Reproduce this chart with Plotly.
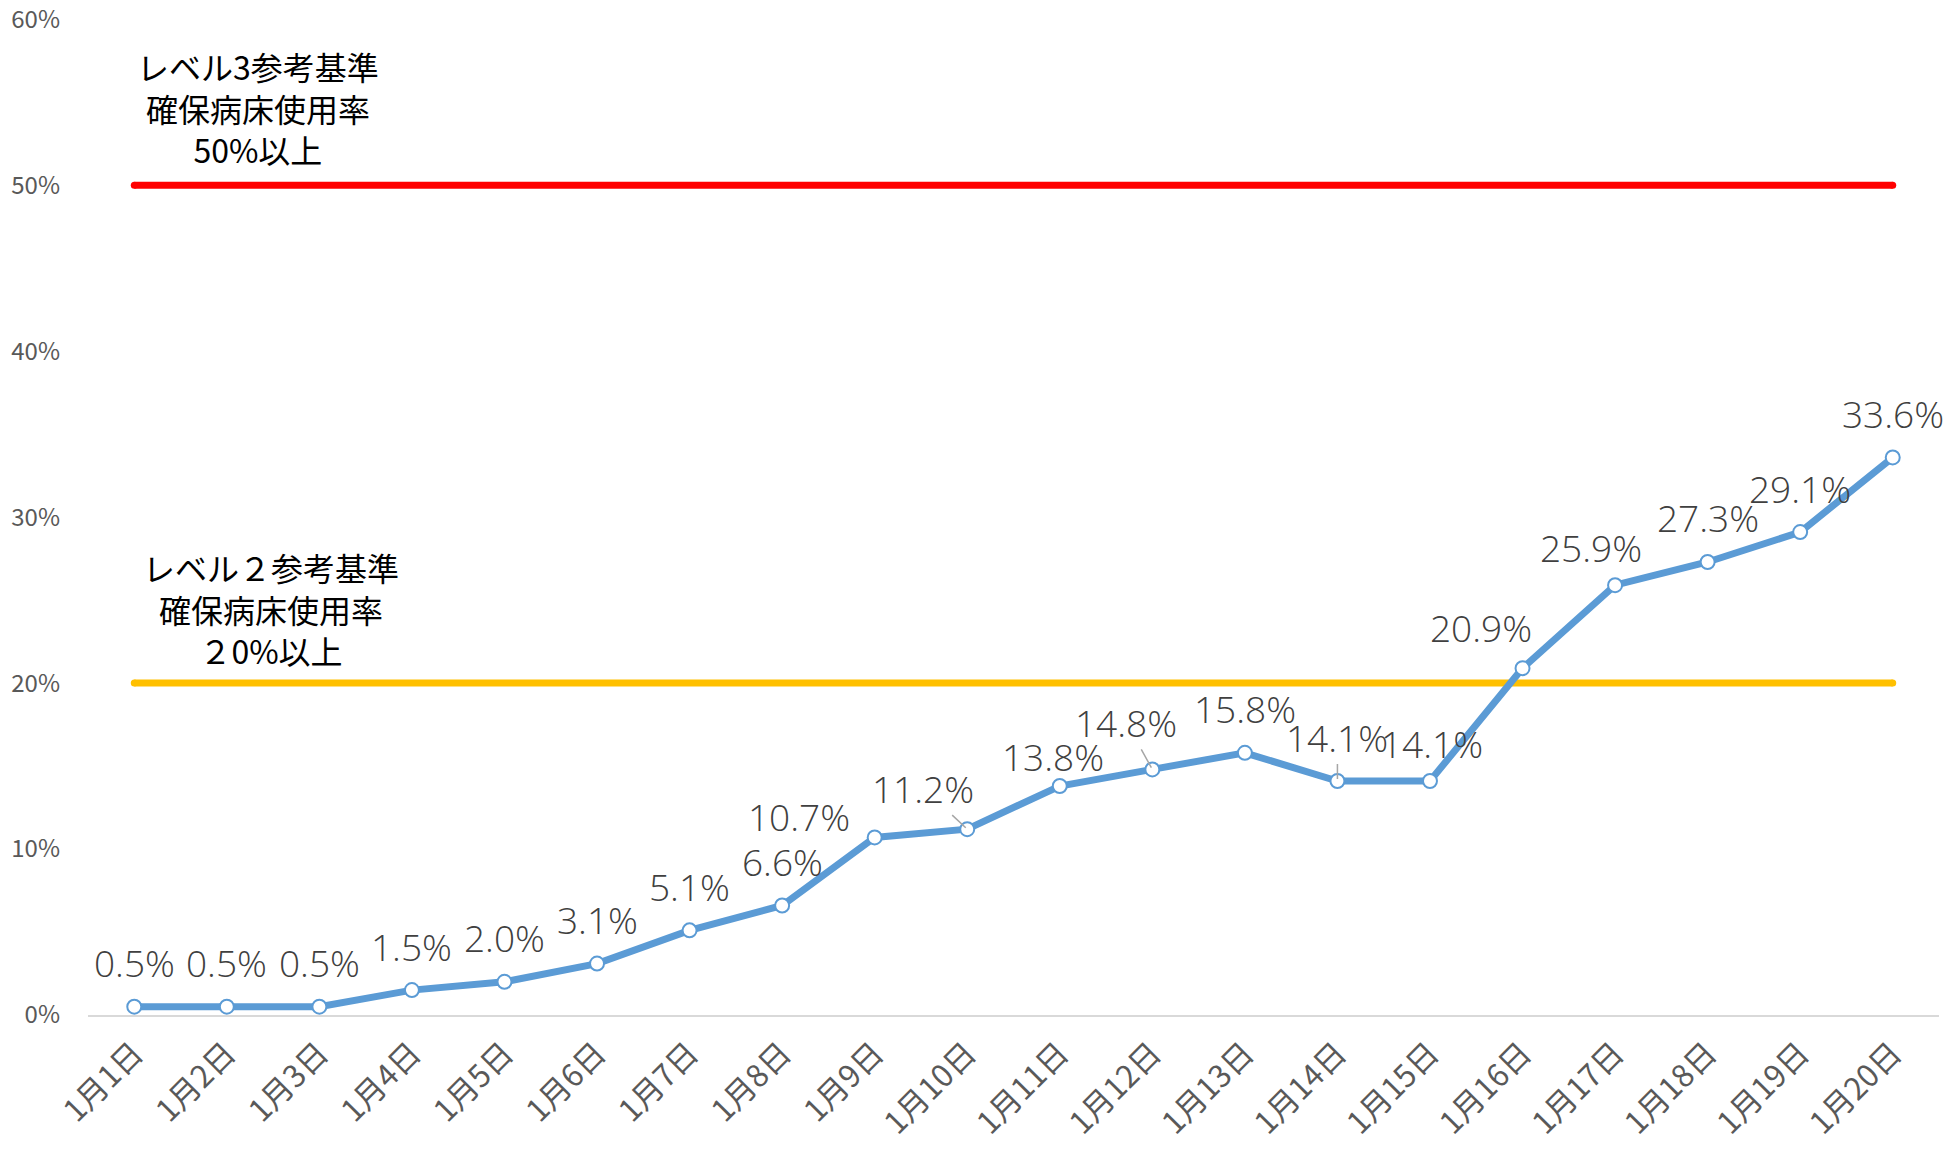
import plotly.graph_objects as go

# Categories and values
days = ["1月%d日" % d for d in range(1, 21)]
usage = [0.5, 0.5, 0.5, 1.5, 2.0, 3.1, 5.1, 6.6, 10.7, 11.2,
         13.8, 14.8, 15.8, 14.1, 14.1, 20.9, 25.9, 27.3, 29.1, 33.6]
y_ticks = [0, 10, 20, 30, 40, 50, 60]
y_labels = ["0%", "10%", "20%", "30%", "40%", "50%", "60%"]
level3 = 50
level2 = 20
level3_text = "レベル3参考基準<br>確保病床使用率<br>50%以上"
level2_text = "レベル２参考基準<br>確保病床使用率<br>２0%以上"

# label offsets in pixels (dx, dy, leader line)
label_shift = {
    8: (-76, -21, False),
    9: (-44, -41, True),
    10: (-7, -30, False),
    11: (-26, -47, True),
    13: (0, -44, True),
    14: (2, -38, False),
    15: (-42, -41, False),
    16: (-24, -38, False),
}

fig = go.Figure()

# Reference lines (markers at the ends give round caps)
fig.add_trace(go.Scatter(
    x=[days[0], days[-1]], y=[level3, level3], mode="lines+markers",
    line=dict(color="#ff0000", width=7),
    marker=dict(color="#ff0000", size=7), hoverinfo="skip"))
fig.add_trace(go.Scatter(
    x=[days[0], days[-1]], y=[level2, level2], mode="lines+markers",
    line=dict(color="#ffc000", width=7),
    marker=dict(color="#ffc000", size=7), hoverinfo="skip"))

fig.add_trace(go.Scatter(
    x=days, y=usage, mode="lines+markers",
    line=dict(color="#5b9bd5", width=7),
    marker=dict(color="white", size=14, line=dict(color="#5b9bd5", width=2))))

label_font = dict(family="Open Sans, Liberation Sans", size=37, color="#404040", weight=300)
for i, (d, v) in enumerate(zip(days, usage)):
    dx, dy, leader = label_shift.get(i, (0, -44, False))
    txt = "%.1f%%" % v
    if leader:
        fig.add_annotation(x=d, y=v, text=txt, showarrow=True, ax=dx, ay=dy,
                           arrowhead=0, arrowwidth=1.5, arrowcolor="#a6a6a6",
                           standoff=2, font=label_font)
    else:
        fig.add_annotation(x=d, y=v, text=txt, showarrow=False,
                           xshift=dx, yshift=-dy, font=label_font)

note_font = dict(family="Noto Sans CJK JP", size=32, color="#000000")
fig.add_annotation(xref="paper", yref="y", x=0.092, y=54.7, text=level3_text,
                   xanchor="center", yanchor="middle",
                   showarrow=False, font=note_font, align="center")
fig.add_annotation(xref="paper", yref="y", x=0.099, y=24.5, text=level2_text,
                   xanchor="center", yanchor="middle",
                   showarrow=False, font=note_font, align="center")

# page body has an 8px margin, so the figure is sized to fit inside it
fig.update_layout(
    width=1937, height=1133,
    margin=dict(l=80, r=6, t=11, b=126),
    plot_bgcolor="white", paper_bgcolor="white",
    showlegend=False,
    font=dict(family="Noto Sans CJK JP", color="#595959"),
)
fig.update_xaxes(
    type="category", categoryorder="array", categoryarray=days,
    range=[-0.5, 19.5], tickangle=-45, automargin=False,
    tickfont=dict(size=31, color="#595959"), ticklabeloverflow="allow",
    showline=True, linecolor="#d9d9d9", linewidth=2,
    showgrid=False, ticks="", ticklabelstandoff=6)
fig.update_yaxes(
    range=[0, 60.02], tickmode="array", tickvals=y_ticks, ticktext=y_labels,
    automargin=False, ticklabeloverflow="allow",
    tickfont=dict(size=24, color="#595959"),
    showgrid=False, zeroline=False, showline=False, ticklabelstandoff=27)

fig.write_html("out.html")
